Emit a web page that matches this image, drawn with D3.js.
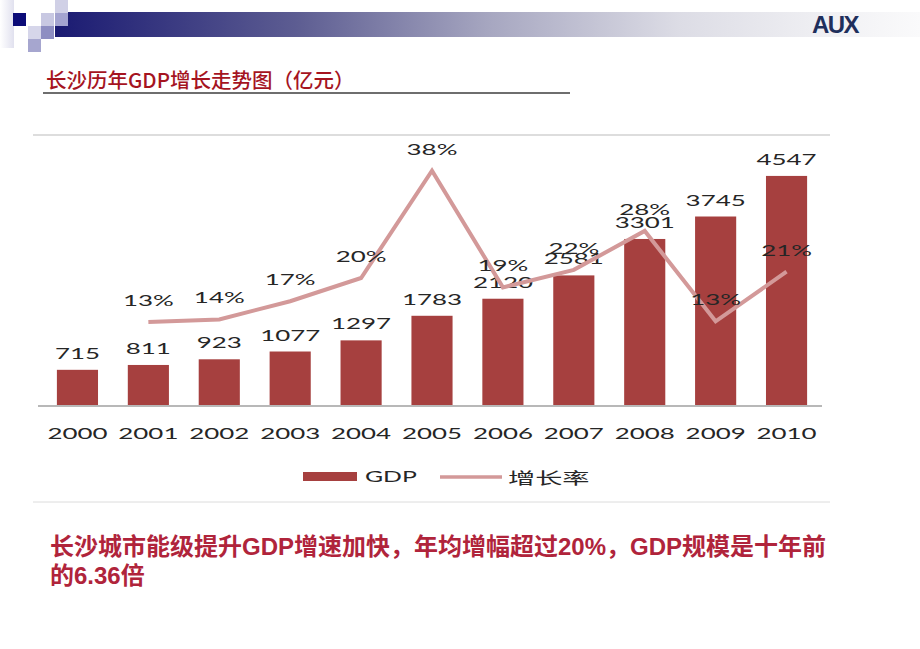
<!DOCTYPE html>
<html>
<head>
<meta charset="utf-8">
<script src="https://cdn.jsdelivr.net/npm/d3@7"></script>
<style>
  html, body { margin: 0; padding: 0; background: #fff; }
  svg { display: block; }
</style>
</head>
<body>
<svg id="chart" width="920" height="649"></svg>
<script>
const years = ["2000","2001","2002","2003","2004","2005","2006","2007","2008","2009","2010"];
const gdpValues = [715, 811, 923, 1077, 1297, 1783, 2120, 2581, 3301, 3745, 4547];
const growthYears = ["2001","2002","2003","2004","2005","2006","2007","2008","2009","2010"];
const growthValues = [13.4, 13.8, 16.7, 20.4, 37.5, 18.9, 21.7, 27.9, 13.5, 21.4];
const growthLabels = ["13%","14%","17%","20%","38%","19%","22%","28%","13%","21%"];
const legendLabels = ["GDP", "增长率"];
const titleText = "长沙历年GDP增长走势图（亿元）";
const noteLines = ["长沙城市能级提升GDP增速加快，年均增幅超过20%，GDP规模是十年前", "的6.36倍"];

const svg = d3.select("#chart");
const BAR = "#a6403f", LINE = "#d39999", TXT = "#262626";
const NUMFONT = "Lato, 'DejaVu Sans', sans-serif";
const SX = 1.62;

// ---------- header decoration ----------
const defs = svg.append("defs");
const g1 = defs.append("linearGradient").attr("id", "hdr").attr("x1", "0").attr("x2", "1");
[[0, "#1a1a72"], [0.28, "#5d5d92"], [0.5, "#a6a6c0"], [0.72, "#dcdce5"], [0.9, "#f1f1f4"], [1, "#fafafb"]]
  .forEach(([o, c]) => g1.append("stop").attr("offset", o).attr("stop-color", c));
const g2 = defs.append("linearGradient").attr("id", "lft").attr("x1", "0").attr("x2", "1");
[[0, "#ffffff"], [1, "#d4d4e8"]].forEach(([o, c]) => g2.append("stop").attr("offset", o).attr("stop-color", c));

svg.append("rect").attr("x", 0).attr("y", 0).attr("width", 14).attr("height", 48).attr("fill", "url(#lft)").attr("opacity", 0.7);
svg.append("rect").attr("x", 55).attr("y", 12).attr("width", 865).attr("height", 25).attr("fill", "url(#hdr)");
const squares = [
  [13, 13, "#0c0c78"], [41, 13, "#c8c8e2"], [55, 0, "#d0d0e6"], [55, 13, "#a4a4d0"],
  [28, 26, "#d6d6ea"], [41, 26, "#8e8ec2"], [28, 39, "#a6a6cf"]
];
svg.selectAll("rect.sq").data(squares).join("rect").attr("class", "sq")
  .attr("x", d => d[0]).attr("y", d => d[1]).attr("width", 13).attr("height", 13).attr("fill", d => d[2]);
svg.append("text").attr("x", 835).attr("y", 33).attr("text-anchor", "middle")
  .attr("font-family", "'Liberation Sans', Arial, sans-serif").attr("font-weight", "bold")
  .attr("font-size", 24).attr("fill", "#1f2f5c").attr("letter-spacing", -1.5).text("AUX");

// ---------- title ----------
svg.append("text").attr("x", 46).attr("y", 88)
  .attr("font-family", "'Noto Sans CJK SC', sans-serif").attr("font-size", 20.5).attr("font-weight", 500)
  .attr("fill", "#a5141f").text(titleText);
svg.append("line").attr("x1", 43).attr("x2", 570).attr("y1", 93).attr("y2", 93)
  .attr("stroke", "#6e6e6e").attr("stroke-width", 2);

// ---------- chart frame ----------
svg.append("line").attr("x1", 33).attr("x2", 830).attr("y1", 135).attr("y2", 135).attr("stroke", "#d2d2d2").attr("stroke-width", 1.5);
svg.append("line").attr("x1", 33).attr("x2", 830).attr("y1", 502).attr("y2", 502).attr("stroke", "#dcdcdc").attr("stroke-width", 1);

// ---------- scales ----------
const x = d3.scaleBand().domain(years).range([42, 822]).paddingInner(0.42).paddingOuter(0.21);
const y = d3.scaleLinear().domain([0, 5000]).range([406, 153]);
const y2 = d3.scaleLinear().domain([0, 40]).range([406, 155]);
const cx = d => x(d) + x.bandwidth() / 2;

// bars
svg.selectAll("rect.bar").data(years).join("rect").attr("class", "bar")
  .attr("x", d => x(d)).attr("width", x.bandwidth())
  .attr("y", (d, i) => y(gdpValues[i])).attr("height", (d, i) => y(0) - y(gdpValues[i]))
  .attr("fill", BAR);

// axis
const xAxis = svg.append("g").attr("transform", "translate(0,406)").call(d3.axisBottom(x).tickSize(0).tickPadding(0));
xAxis.select(".domain").attr("d", "M38,0H822").attr("stroke", "#b8b8b8").attr("stroke-width", 2);
xAxis.selectAll(".tick text").remove();
svg.selectAll("text.yr").data(years).join("text").attr("class", "yr")
  .attr("transform", d => `translate(${cx(d)},439) scale(${SX},1)`)
  .attr("text-anchor", "middle").attr("font-family", NUMFONT).attr("font-size", 16)
  .attr("fill", TXT).text(d => d);

// bar value labels
svg.selectAll("text.val").data(years).join("text").attr("class", "val")
  .attr("transform", (d, i) => `translate(${cx(d)},${y(gdpValues[i]) - 11}) scale(${SX},1)`)
  .attr("text-anchor", "middle").attr("font-family", NUMFONT).attr("font-size", 16)
  .attr("fill", TXT).text((d, i) => gdpValues[i]);

// growth line
const line = d3.line().x(d => cx(d)).y((d, i) => y2(growthValues[i]));
svg.append("path").datum(growthYears).attr("d", line)
  .attr("fill", "none").attr("stroke", LINE).attr("stroke-width", 4).attr("stroke-linejoin", "miter");

svg.selectAll("text.pct").data(growthYears).join("text").attr("class", "pct")
  .attr("transform", (d, i) => `translate(${cx(d)},${y2(growthValues[i]) - 16}) scale(${SX},1)`)
  .attr("text-anchor", "middle").attr("font-family", NUMFONT).attr("font-size", 16)
  .attr("fill", TXT).text((d, i) => growthLabels[i]);

// ---------- legend ----------
svg.append("rect").attr("x", 303).attr("y", 472).attr("width", 54).attr("height", 9).attr("fill", BAR);
svg.append("text").attr("transform", `translate(365,482) scale(1.55,1)`)
  .attr("font-family", NUMFONT).attr("font-size", 16).attr("fill", TXT).text(legendLabels[0]);
svg.append("line").attr("x1", 440).attr("x2", 502).attr("y1", 477).attr("y2", 477)
  .attr("stroke", LINE).attr("stroke-width", 3.5);
svg.append("text").attr("transform", `translate(508,484) scale(1.7,1)`)
  .attr("font-family", "'Noto Sans CJK SC', sans-serif").attr("font-size", 16).attr("fill", TXT).text(legendLabels[1]);

// ---------- conclusion ----------
svg.selectAll("text.note").data(noteLines).join("text").attr("class", "note")
  .attr("x", 50).attr("y", (d, i) => 555 + i * 29)
  .attr("font-family", "'Liberation Sans', 'Noto Sans CJK SC', sans-serif").attr("font-weight", "bold")
  .attr("font-size", 24).attr("fill", "#b0243b").text(d => d)
  .each(function (d, i) { if (i === 0) d3.select(this).attr("textLength", 776).attr("lengthAdjust", "spacingAndGlyphs"); });
</script>
</body>
</html>
